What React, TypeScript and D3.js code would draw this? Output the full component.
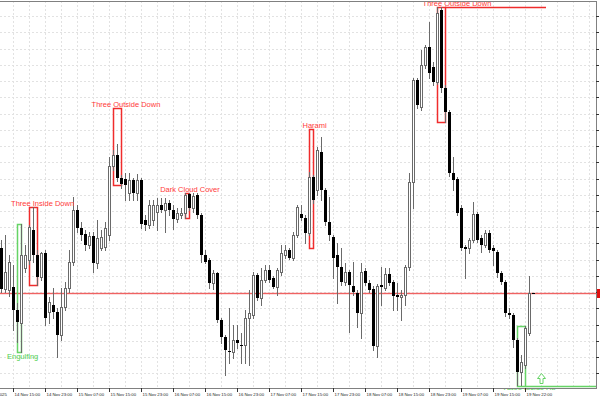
import React from 'react';
import * as d3 from 'd3';

// H1 candles, prices
const opens = [
  1.0752,1.0711,1.0710,1.0713,1.0690,1.0677,1.0732,1.0740,1.0770,1.0745,
  1.0723,1.0747,1.0688,1.0695,1.0688,1.0665,1.0693,1.0712,1.0738,1.0790,
  1.0772,1.0766,1.0755,1.0764,1.0737,1.0752,1.0753,1.0765,1.0834,1.0845,
  1.0822,1.0821,1.0807,1.0820,1.0807,1.0820,1.0780,1.0775,1.0780,1.0788,
  1.0795,1.0790,1.0797,1.0790,1.0781,1.0785,1.0787,1.0806,1.0792,1.0805,
  1.0785,1.0745,1.0740,1.0717,1.0727,1.0680,1.0663,1.0649,1.0648,1.0660,
  1.0655,1.0655,1.0682,1.0685,1.0725,1.0702,1.0720,1.0730,1.0722,1.0713,
  1.0728,1.0745,1.0750,1.0742,1.0765,1.0786,1.0782,1.0767,1.0823,1.0810,
  1.0848,1.0810,1.0778,1.0763,1.0745,1.0733,1.0718,1.0728,1.0714,1.0707,
  1.0687,1.0729,1.0717,1.0711,1.0654,1.0715,1.0712,1.0726,1.0718,1.0705,
  1.0703,1.0705,1.0733,1.0818,1.0920,1.0893,1.0935,1.0953,1.0933,1.0918,
  1.0990,1.0912,1.0888,1.0827,1.0821,1.0792,1.0753,1.0752,1.0760,1.0786,
  1.0762,1.0755,1.0767,1.0752,1.0748,1.0727,1.0718,1.0687,1.0685,1.0660,
  1.0628,1.0635,1.0667,1.0707,
];
const highs = [
  1.0760,1.0765,1.0745,1.0735,1.0697,1.0776,1.0755,1.0775,1.0793,1.0750,
  1.0748,1.0750,1.0703,1.0712,1.0692,1.0712,1.0718,1.0750,1.0803,1.0795,
  1.0778,1.0770,1.0768,1.0768,1.0780,1.0770,1.0778,1.0843,1.0850,1.0856,
  1.0825,1.0827,1.0827,1.0822,1.0826,1.0822,1.0785,1.0800,1.0800,1.0802,
  1.0802,1.0802,1.0800,1.0795,1.0792,1.0792,1.0807,1.0807,1.0807,1.0807,
  1.0787,1.0750,1.0742,1.0730,1.0728,1.0682,1.0665,1.0692,1.0675,1.0675,
  1.0667,1.0690,1.0710,1.0728,1.0727,1.0732,1.0735,1.0735,1.0724,1.0732,
  1.0755,1.0755,1.0752,1.0768,1.0795,1.0795,1.0785,1.0828,1.0825,1.0853,
  1.0863,1.0812,1.0803,1.0765,1.0757,1.0752,1.0737,1.0730,1.0738,1.0710,
  1.0737,1.0732,1.0720,1.0714,1.0716,1.0733,1.0732,1.0732,1.0720,1.0717,
  1.0710,1.0735,1.0827,1.0922,1.0922,1.0950,1.0955,1.0978,1.0938,1.0993,
  1.0993,1.0915,1.0890,1.0843,1.0823,1.0795,1.0755,1.0762,1.0798,1.0788,
  1.0765,1.0770,1.0770,1.0755,1.0750,1.0729,1.0720,1.0692,1.0687,1.0662,
  1.0645,1.0674,1.0724,1.0707,
];
const lows = [
  1.0708,1.0708,1.0704,1.0670,1.0658,1.0648,1.0728,1.0736,1.0738,1.0715,
  1.0720,1.0675,1.0677,1.0682,1.0643,1.0660,1.0690,1.0708,1.0735,1.0768,
  1.0760,1.0750,1.0752,1.0728,1.0732,1.0750,1.0750,1.0760,1.0830,1.0819,
  1.0812,1.0800,1.0800,1.0800,1.0800,1.0772,1.0770,1.0772,1.0775,1.0770,
  1.0788,1.0768,1.0785,1.0771,1.0778,1.0782,1.0782,1.0790,1.0788,1.0782,
  1.0738,1.0737,1.0712,1.0711,1.0678,1.0657,1.0625,1.0637,1.0642,1.0652,
  1.0637,1.0637,1.0635,1.0682,1.0700,1.0695,1.0718,1.0718,1.0712,1.0705,
  1.0725,1.0742,1.0741,1.0740,1.0763,1.0780,1.0757,1.0765,1.0797,1.0805,
  1.0800,1.0775,1.0760,1.0722,1.0697,1.0715,1.0715,1.0668,1.0705,1.0673,
  1.0662,1.0715,1.0708,1.0650,1.0643,1.0695,1.0710,1.0715,1.0690,1.0690,
  1.0680,1.0695,1.0730,1.0792,1.0892,1.0890,1.0932,1.0922,1.0915,1.0916,
  1.0908,1.0878,1.0824,1.0810,1.0785,1.0750,1.0722,1.0747,1.0758,1.0758,
  1.0748,1.0753,1.0748,1.0735,1.0723,1.0716,1.0684,1.0682,1.0653,1.0615,
  1.0615,1.0632,1.0665,1.0707,
];
const closes = [
  1.0711,1.0728,1.0738,1.0690,1.0678,1.0745,1.0745,1.0773,1.0745,1.0723,
  1.0747,1.0682,1.0698,1.0688,1.0665,1.0693,1.0712,1.0738,1.0790,1.0772,
  1.0765,1.0755,1.0764,1.0737,1.0762,1.0763,1.0772,1.0834,1.0845,1.0822,
  1.0816,1.0815,1.0820,1.0807,1.0820,1.0776,1.0775,1.0795,1.0795,1.0795,
  1.0790,1.0797,1.0790,1.0781,1.0787,1.0787,1.0805,1.0792,1.0804,1.0785,
  1.0745,1.0738,1.0717,1.0727,1.0680,1.0663,1.0650,1.0648,1.0660,1.0657,
  1.0655,1.0682,1.0687,1.0725,1.0702,1.0720,1.0730,1.0720,1.0713,1.0730,
  1.0747,1.0750,1.0742,1.0765,1.0793,1.0782,1.0767,1.0823,1.0800,1.0850,
  1.0810,1.0778,1.0765,1.0742,1.0733,1.0718,1.0728,1.0715,1.0708,1.0687,
  1.0728,1.0717,1.0710,1.0654,1.0714,1.0713,1.0726,1.0717,1.0704,1.0703,
  1.0705,1.0733,1.0818,1.0920,1.0895,1.0935,1.0953,1.0927,1.0918,1.0987,
  1.0912,1.0888,1.0827,1.0820,1.0787,1.0752,1.0751,1.0760,1.0786,1.0760,
  1.0755,1.0767,1.0750,1.0749,1.0727,1.0718,1.0687,1.0685,1.0660,1.0628,
  1.0638,1.0672,1.0707,1.0707,
];

const firstDateLabel = '14 Nov 2025';
const timeLabels = [
  '14 Nov 15:00','14 Nov 23:00','15 Nov 07:00','15 Nov 15:00','15 Nov 23:00',
  '16 Nov 07:00','16 Nov 15:00','16 Nov 23:00','17 Nov 07:00','17 Nov 15:00',
  '17 Nov 23:00','18 Nov 07:00','18 Nov 15:00','18 Nov 23:00','19 Nov 07:00',
  '19 Nov 15:00','19 Nov 22:00',
];
const priceTicks = [
  1.09838,1.09676,1.09513,1.09351,1.09189,1.09027,1.08864,1.08702,1.08540,1.08377,
  1.08215,1.08053,1.07890,1.07728,1.07566,1.07404,1.07241,1.07079,1.06917,1.06754,
  1.06592,1.06430,1.06267,
];
const lastPrice = 1.0707;

// candlestick pattern markers: bar range, price box, label, label bar
const patternLabels = ['Engulfing','Three Inside Down','Three Outside Down','Dark Cloud Cover','Harami','Three Outside Down','Three Inside Up'];
const patternFrom = [4, 7, 28, 46, 77, 109, 129];
const patternTo = [5, 9, 30, 47, 78, 111, 131];
const patternTop = [1.0776, 1.0793, 1.0892, 1.0807, 1.0871, 1.0993, 1.0674];
const patternBottom = [1.0648, 1.0715, 1.0815, 1.0782, 1.0752, 1.0878, 1.0614];
const patternBullish = [true, false, false, false, false, false, true];
const patternLabelBar = [5.4, 10.4, 31.25, 47.25, 78.4, 114, 132];
const patternExtendTo = [null, null, null, null, null, 136.25, 149];
const arrowBar = 135;
const arrowTop = 1.0627;
const arrowBottom = 1.0617;

const FONT = 'Liberation Sans, Arial, sans-serif';
const RED = '#f02c2c';
const GREEN = '#66d466';

export default function App() {
  const plotRight = 596;
  const plotTop = 1;
  const plotBottom = 388;
  const x = d3.scaleLinear().domain([0, 133]).range([1, 533]);
  const y = d3.scaleLinear().domain([1.1, 1.06]).range([0, 400]);
  const ry = (p: number) => Math.round(y(p));
  const rx = (i: number) => Math.round(x(i));

  const bars = opens.map((o, i) => ({ i, o, h: highs[i], l: lows[i], c: closes[i] }));
  const gridBars: number[] = [];
  for (let b = 3; rx(b) < plotRight; b += 4) gridBars.push(b);

  const lastY = ry(lastPrice) + 0.5;

  return (
    <svg width={600} height={400} style={{ position: 'absolute', left: 0, top: 0, background: '#fff' }}>
      <defs>
        <clipPath id="plot"><rect x={0} y={plotTop} width={plotRight} height={plotBottom - plotTop} /></clipPath>
        <clipPath id="ann"><rect x={0} y={plotTop} width={plotRight} height={390 - plotTop} /></clipPath>
      </defs>
      <rect x={0} y={0} width={600} height={400} fill="#fff" />
      {/* grid */}
      <g stroke="#e2e2e2" strokeDasharray="2,2" strokeWidth={1}>
        {priceTicks.map((t, k) => (
          <line key={'h' + k} x1={0} x2={plotRight} y1={ry(t) + 0.5} y2={ry(t) + 0.5} />
        ))}
        {gridBars.map((b) => (
          <line key={'v' + b} x1={rx(b) + 0.5} x2={rx(b) + 0.5} y1={plotTop} y2={plotBottom} />
        ))}
      </g>
      {/* price line */}
      <rect x={0} y={lastY - 0.7} width={plotRight} height={1.4} fill="#f06262" />
      {/* pattern boxes */}
      <g clipPath="url(#plot)" fill="none" strokeWidth={1.5}>
        {patternLabels.map((lab, k) => {
          const col = patternBullish[k] ? GREEN : RED;
          const x0 = rx(patternFrom[k]) + 0.5;
          const x1 = rx(patternTo[k]) + 0.5;
          const y0 = ry(patternTop[k]) + 0.5;
          const y1 = ry(patternBottom[k]) + 0.5;
          const ext = patternExtendTo[k];
          const ey = patternBullish[k] ? y1 : y0;
          return (
            <g key={'p' + k} stroke={col}>
              <rect x={x0} y={y0} width={x1 - x0} height={y1 - y0} />
              {ext !== null && <line x1={x1} x2={Math.min(rx(ext as number), plotRight)} y1={ey} y2={ey} />}
            </g>
          );
        })}
      </g>
      {/* candles */}
      <g clipPath="url(#plot)">
        {bars.map((b) => {
          const cx = rx(b.i);
          const yo = ry(b.o), yc = ry(b.c), yh = ry(b.h), yl = ry(b.l);
          const bull = b.c > b.o;
          const bear = b.c < b.o;
          return (
            <g key={'c' + b.i}>
              {yl > yh && <line x1={cx + 0.5} x2={cx + 0.5} y1={yh} y2={yl + 1} stroke="#6a6a6a" />}
              {bull && (
                <rect x={cx - 0.5} y={yc + 0.5} width={2} height={Math.max(yo - yc, 1)} fill="#fff" stroke="#6a6a6a" />
              )}
              {bear && <rect x={cx - 1} y={yo} width={3} height={Math.max(yc - yo, 1)} fill="#000" />}
              {!bull && !bear && (
                <line x1={cx - 1} x2={cx + 2} y1={yo + 0.5} y2={yo + 0.5} stroke="#000" />
              )}
            </g>
          );
        })}
      </g>
      {/* pattern labels */}
      <g clipPath="url(#ann)" fontFamily={FONT} fontSize={7.5} textAnchor="middle">
        {patternLabels.map((lab, k) => {
          const bull = patternBullish[k];
          const ty = bull ? ry(patternBottom[k]) + 6.5 : ry(patternTop[k]) - 1.5;
          return (
            <text key={'t' + k} x={x(patternLabelBar[k])} y={ty} fill={bull ? '#4fcf4f' : '#ff3a3a'}>
              {lab}
            </text>
          );
        })}
      </g>
      {/* arrow */}
      {(() => {
        const cx = rx(arrowBar) + 0.5;
        const t = ry(arrowTop) + 0.5;
        const bt = ry(arrowBottom) + 0.5;
        const m = t + 5;
        const d = `M${cx},${t} L${cx + 4},${m} L${cx + 1.5},${m} L${cx + 1.5},${bt} L${cx - 1.5},${bt} L${cx - 1.5},${m} L${cx - 4},${m} Z`;
        return <path d={d} fill="#fff" stroke={GREEN} strokeWidth={1} />;
      })()}
      {/* frame */}
      <g stroke="#808080" strokeWidth={1}>
        <line x1={0} x2={plotRight + 0.5} y1={plotTop + 0.5} y2={plotTop + 0.5} />
        <line x1={plotRight + 0.5} x2={plotRight + 0.5} y1={plotTop} y2={plotBottom + 1} />
        <line x1={0} x2={plotRight + 0.5} y1={plotBottom + 0.5} y2={plotBottom + 0.5} />
      </g>
      {/* price axis */}
      <g fontFamily={FONT} fontSize={7}>
        {priceTicks.map((t, k) => (
          <g key={'pt' + k}>
            <line x1={plotRight} x2={plotRight + 3} y1={ry(t) + 0.5} y2={ry(t) + 0.5} stroke="#333" />
            <text x={plotRight + 4} y={ry(t) + 2.5} fill="#222">{t.toFixed(5)}</text>
          </g>
        ))}
        <rect x={plotRight + 1} y={lastY - 4.5} width={40} height={9} fill="#e01010" />
        <text x={plotRight + 4} y={lastY + 2.5} fill="#fff">{lastPrice.toFixed(5)}</text>
      </g>
      {/* time axis */}
      <g fontFamily={FONT} fontSize={4.3} fill="#222">
        <line x1={rx(-5) + 0.5} x2={rx(-5) + 0.5} y1={plotBottom} y2={plotBottom + 4} stroke="#333" />
        <text x={rx(-5) + 1.5} y={395.5}>{firstDateLabel}</text>
        {timeLabels.map((lab, k) => {
          const b = 3 + 8 * k;
          return (
            <g key={'tl' + k}>
              <line x1={rx(b) + 0.5} x2={rx(b) + 0.5} y1={plotBottom} y2={plotBottom + 4} stroke="#333" />
              <text x={rx(b) + 1.5} y={395.5}>{lab}</text>
            </g>
          );
        })}
      </g>
    </svg>
  );
}
